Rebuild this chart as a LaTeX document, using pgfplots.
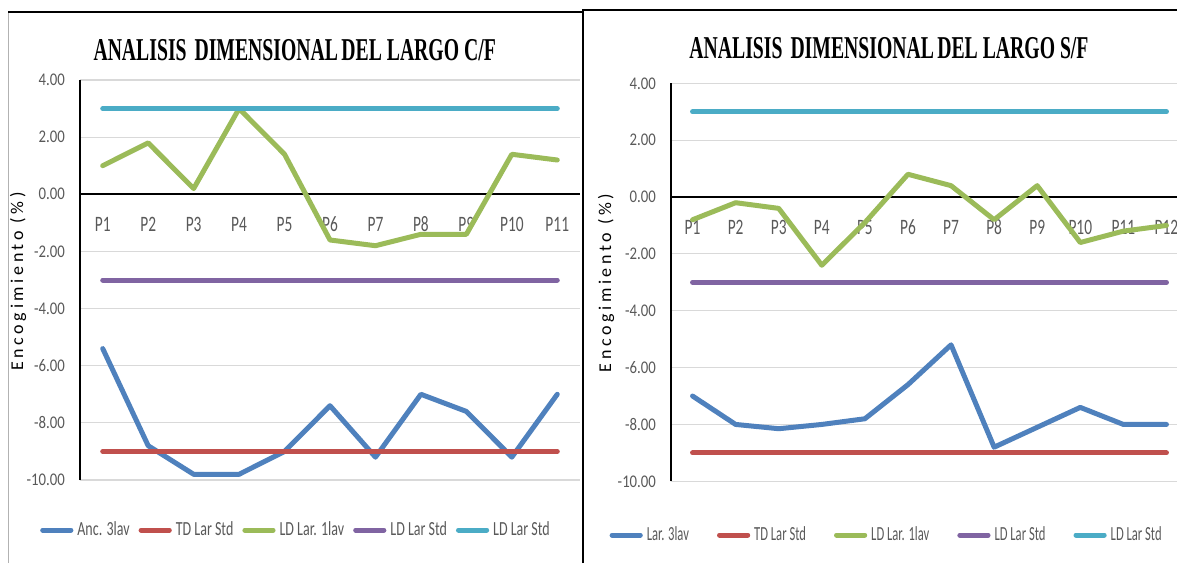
\documentclass[border=0pt]{standalone}
\usepackage{pgfplots}
\pgfplotsset{compat=1.18}
\usepackage{pgfplotstable}
\usepackage{fontspec}
\setmainfont{Carlito}
\newfontfamily\titlefont[FakeStretch=0.62]{Liberation Serif}
\newfontfamily\tickfont[FakeStretch=0.83]{Carlito}
\newfontfamily\xtickfont[FakeStretch=0.7]{Carlito}
\newfontfamily\legfontL[FakeStretch=0.7]{Carlito}
\newfontfamily\legfontR[FakeStretch=0.63]{Carlito}
\newfontfamily\labfont[LetterSpace=20]{Carlito}

\definecolor{sblue}{HTML}{4F81BD}
\definecolor{sred}{HTML}{C0504D}
\definecolor{sgreen}{HTML}{9BBB59}
\definecolor{spurple}{HTML}{8064A2}
\definecolor{scyan}{HTML}{4BACC6}
\definecolor{tickgray}{HTML}{595959}
\definecolor{gridgray}{HTML}{D9D9D9}

% C/F
\pgfplotstableread{
x  blue  red  green purple cyan
1  -5.4  -9   1.0   -3     3
2  -8.8  -9   1.8   -3     3
3  -9.8  -9   0.2   -3     3
4  -9.8  -9   3.0   -3     3
5  -9.0  -9   1.4   -3     3
6  -7.4  -9  -1.6   -3     3
7  -9.2  -9  -1.8   -3     3
8  -7.0  -9  -1.4   -3     3
9  -7.6  -9  -1.4   -3     3
10 -9.2  -9   1.4   -3     3
11 -7.0  -9   1.2   -3     3
}\dataCF

% S/F
\pgfplotstableread{
x  blue   red  green purple cyan
1  -7.0   -9  -0.8   -3     3
2  -8.0   -9  -0.2   -3     3
3  -8.15  -9  -0.4   -3     3
4  -8.0   -9  -2.4   -3     3
5  -7.8   -9  -0.9   -3     3
6  -6.6   -9   0.8   -3     3
7  -5.2   -9   0.4   -3     3
8  -8.8   -9  -0.8   -3     3
9  -8.1   -9   0.4   -3     3
10 -7.4   -9  -1.6   -3     3
11 -8.0   -9  -1.2   -3     3
12 -8.0   -9  -1.0   -3     3
}\dataSF

\pgfplotsset{
  excel/.style={
    scale only axis,
    axis y line=left, axis x line=middle,
    axis line style={-, black},
    x axis line style={line width=1pt},
    y axis line style={line width=0.6pt},
    hide obscured x ticks=false, hide obscured y ticks=false,
    ymin=-10, ymax=4, ytick={-10,-8,...,4},
    ymajorgrids, grid style={draw=gridgray, line width=0.6pt},
    major tick length=0pt,
    xmin=0.5, xtick=data,
    yticklabel style={font=\tickfont\fontsize{8.9}{10}\selectfont, text=tickgray, xshift=-4pt},
    xticklabel style={font=\xtickfont\fontsize{11}{12}\selectfont, text=tickgray, anchor=center, yshift=-15pt},
    /pgf/number format/.cd, fixed, fixed zerofill, precision=2, assume math mode=true,
    /pgfplots/.cd,
    legend image code/.code={\draw[##1, line width=2.5pt, line cap=round] (1.2pt,0pt) -- (15.3pt,0pt);},
    every axis plot/.append style={line width=2.5pt, line cap=round, line join=round, no marks},
  }
}

\newcommand\titletext[1]{\titlefont\bfseries\fontsize{15.9}{18}\selectfont
  ANALISIS\hspace{1.5pt} DIMENSIONAL\hspace{-0.8pt} DEL LARGO #1}

\begin{document}
\begin{tikzpicture}
\path[use as bounding box] (0,0) rectangle (588.5pt,281.5pt);
\clip (0,0) rectangle (588.5pt,281.5pt);

% frames
\draw[gray!60, line width=0.5pt] (4pt,0) -- (4pt,275.5pt);
\draw[black, line width=1pt] (4pt,275.5pt) -- (291.5pt,275.5pt);
\draw[black, line width=1pt] (291.5pt,276.5pt) -- (588.5pt,276.5pt);
\draw[black, line width=1.2pt] (291.5pt,0) -- (291.5pt,277pt);

% left chart
\begin{axis}[excel,
  at={(40pt,41.5pt)}, anchor=south west,
  width=250pt, height=200pt,
  xmax=11.5,
  xticklabels={P1,P2,P3,P4,P5,P6,P7,P8,P9,P10,P11},
  legend style={at={(0.434,-0.125)}, anchor=center, draw=none, fill=none,
    legend columns=5, font=\legfontL\fontsize{10}{12}\selectfont, text=tickgray,
    /tikz/every even column/.append style={column sep=2.5pt}},
  legend cell align=left,
]
\addplot[sblue]   table[x=x,y=blue]{\dataCF};
\addplot[sred]    table[x=x,y=red]{\dataCF};
\addplot[sgreen]  table[x=x,y=green]{\dataCF};
\addplot[spurple] table[x=x,y=purple]{\dataCF};
\addplot[scyan]   table[x=x,y=cyan]{\dataCF};
\legend{Anc. 3lav, TD Lar Std, LD Lar. 1lav, LD Lar Std, LD Lar Std}
\end{axis}

% right chart
\begin{axis}[excel,
  at={(335.5pt,40.85pt)}, anchor=south west,
  width=258.5pt, height=199pt,
  xmax=12.5,
  xticklabels={P1,P2,P3,P4,P5,P6,P7,P8,P9,P10,P11,P12},
  legend style={at={(0.419,-0.135)}, anchor=center, draw=none, fill=none,
    legend columns=5, font=\legfontR\fontsize{10}{12}\selectfont, text=tickgray,
    /tikz/every even column/.append style={column sep=12pt}},
  legend cell align=left,
]
\addplot[sblue]   table[x=x,y=blue]{\dataSF};
\addplot[sred]    table[x=x,y=red]{\dataSF};
\addplot[sgreen]  table[x=x,y=green]{\dataSF};
\addplot[spurple] table[x=x,y=purple]{\dataSF};
\addplot[scyan]   table[x=x,y=cyan]{\dataSF};
\legend{Lar. 3lav, TD Lar Std, LD Lar. 1lav, LD Lar Std, LD Lar Std}
\end{axis}

% titles and axis labels
\node at (147.35pt,256.5pt) {\titletext{C/F}};
\node at (444.5pt,257.5pt) {\titletext{S/F}};
\node[rotate=90] at (9pt,140.75pt) {\labfont\fontsize{9}{10}\selectfont Encogimiento (\%)};
\node[rotate=90] at (303pt,140pt) {\labfont\fontsize{9}{10}\selectfont Encogimiento (\%)};
\end{tikzpicture}
\end{document}
